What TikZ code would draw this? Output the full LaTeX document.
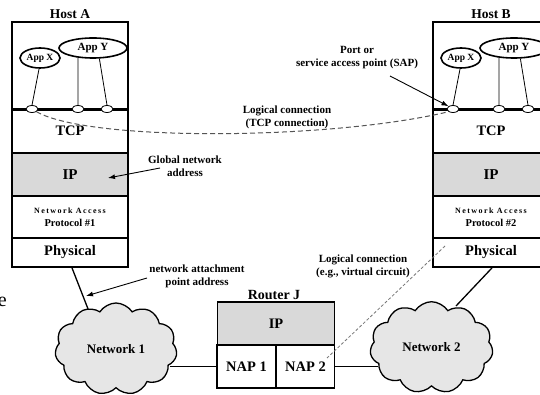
\documentclass[tikz,border=0pt]{standalone}
\usepackage{fontspec}
\setmainfont{Liberation Serif}
\usetikzlibrary{shapes.geometric,shapes.symbols,arrows.meta,calc}
\definecolor{ipgray}{HTML}{D9D9D9}
\definecolor{cloudgray}{HTML}{E6E6E6}
\definecolor{dashgray}{HTML}{555555}
\tikzset{
  layer/.style={draw, line width=1.8pt, minimum width=116pt, inner sep=0pt, align=center,
    font=\bfseries\fontsize{14.5}{16}\selectfont},
  appell/.style={ellipse, draw, line width=1.6pt, fill=white, inner sep=0pt, font=\bfseries},
  port/.style={ellipse, draw, line width=0.8pt, fill=white, minimum width=12pt, minimum height=7pt, inner sep=0pt},
  stem/.style={line width=0.8pt},
  conn/.style={line width=1.3pt},
  lbl/.style={inner sep=0pt, align=center, font=\bfseries\fontsize{11}{13}\selectfont},
  title/.style={inner sep=0pt, font=\bfseries\fontsize{13.5}{15}\selectfont},
  arr/.style={line width=0.9pt, -{Latex[length=7pt,width=5pt]}},
  cloudy/.style={cloud, cloud puffs=11, cloud puff arc=115, draw, line width=1.3pt, fill=cloudgray,
    inner sep=0pt, font=\bfseries\fontsize{13}{15}\selectfont},
  tcpdash/.style={draw=dashgray, line width=1pt, dash pattern=on 5pt off 3pt},
  vcdash/.style={draw=dashgray!80, line width=0.8pt, dash pattern=on 3pt off 2pt}
}
\newcommand\hoststack[4]{%
  \node[title] (#1title) at (#2+70,14) {Host #3};
  \node[layer, minimum height=87pt] (#1app) at (#2+70,65.5) {};
  \node[layer, minimum height=44pt] (#1tcp) at (#2+70,131) {TCP};
  \node[layer, fill=ipgray, minimum height=43pt, font=\bfseries\fontsize{15}{16}\selectfont] (#1ip) at (#2+70,174.5) {IP};
  \node[layer, minimum height=42pt, font=\bfseries\fontsize{10.5}{13}\selectfont] (#1na) at (#2+70,217)
    {{\fontsize{8}{13}\selectfont\addfontfeatures{LetterSpace=18}Network Access}\\Protocol \##4};
  \node[layer, minimum height=29pt] (#1phys) at (#2+70,252.5) {Physical};
  \draw[line width=2.6pt] (#1app.south west) -- (#1app.south east);
  \node[appell, minimum width=40pt, minimum height=20pt, font=\bfseries\fontsize{9.5}{10}\selectfont] (#1appx) at (#2+40,58) {App X};
  \node[appell, minimum width=68pt, minimum height=20pt, font=\bfseries\fontsize{11}{12}\selectfont] (#1appy) at (#2+93,48) {App Y};
  \node[port] (#1p1) at (#2+32,109) {};
  \node[port] (#1p2) at (#2+78,109) {};
  \node[port] (#1p3) at (#2+107,109) {};
  \draw[stem] (#1appx.265) -- (#1p1.north);
  \draw[stem] (#1appy.213) -- (#1p2.north);
  \draw[stem] (#1appy.301) -- (#1p3.north);
}
\begin{document}
\begin{tikzpicture}[x=1pt, y=-1pt]
\useasboundingbox (0,0) rectangle (540,395);
\fill[white] (0,0) rectangle (540,395);

\hoststack{a}{0}{A}{1}
\hoststack{b}{421}{B}{2}

% router
\node[title, font=\bfseries\fontsize{14}{15}\selectfont] (rtitle) at (274,295) {Router J};
\node[layer, fill=ipgray, minimum width=117pt, minimum height=43pt] (rip) at (276,323.5) {IP};
\node[layer, minimum width=59pt, minimum height=43pt] (nap1) at (246.5,366.5) {NAP 1};
\node[layer, minimum width=58pt, minimum height=43pt] (nap2) at (305.5,366.5) {NAP 2};

% attachments to the networks
\coordinate (n1top) at (90,314);
\coordinate (n1e) at (170,366.5);
\coordinate (n2w) at (378,366.5);
\coordinate (n2top) at (456,306);
\draw[conn] ($(aphys.south)+(2,0)$) -- (n1top);
\draw[conn] (n1e) -- (nap1.west);
\draw[conn] (nap2.east) -- (n2w);
\draw[conn] ($(bphys.south)+(1,0)$) -- (n2top);

\node[cloudy, minimum width=122pt, minimum height=92pt] (net1) at (116,349) {Network 1};
\node[cloudy, minimum width=123pt, minimum height=91pt] (net2) at (431.5,347.5) {Network 2};

% logical TCP connection
\draw[tcpdash] (ap1.south east) .. controls (90,142) and (330,140) .. (bp1.south west);
\node[lbl] (tcplbl) at (287,117.5) {Logical connection\\(TCP connection)};

% SAP
\node[lbl] (saplbl) at (357,57.5) {Port or\\service access point (SAP)};
\coordinate (sapfrom) at (390,76);
\draw[arr] (sapfrom) -- (bp1.north west);

% global network address
\node[lbl] (gnalbl) at (185,166) {Global network\\address};
\coordinate (gnafrom) at (160,168);
\coordinate (gnato) at (108,178);
\draw[arr] (gnafrom) -- (gnato);

% network attachment point address
\node[lbl] (natlbl) at (197,276.5) {network attachment\\point address};
\coordinate (natfrom) at (147,278);
\coordinate (natto) at (86,296);
\draw[arr] (natfrom) -- (natto);

% virtual circuit
\node[lbl] (vclbl) at (363,266) {Logical connection\\(e.g., virtual circuit)};
\coordinate (vcfrom) at (445,246);
\coordinate (vcto) at (327,358);
\draw[vcdash] (vcfrom) -- (vcto);

% stray letter at left edge (cut off in the reference too)
\node[inner sep=0pt, anchor=east, font=\fontsize{20}{22}\selectfont] (stray) at (7,302) {e};
\end{tikzpicture}
\end{document}
